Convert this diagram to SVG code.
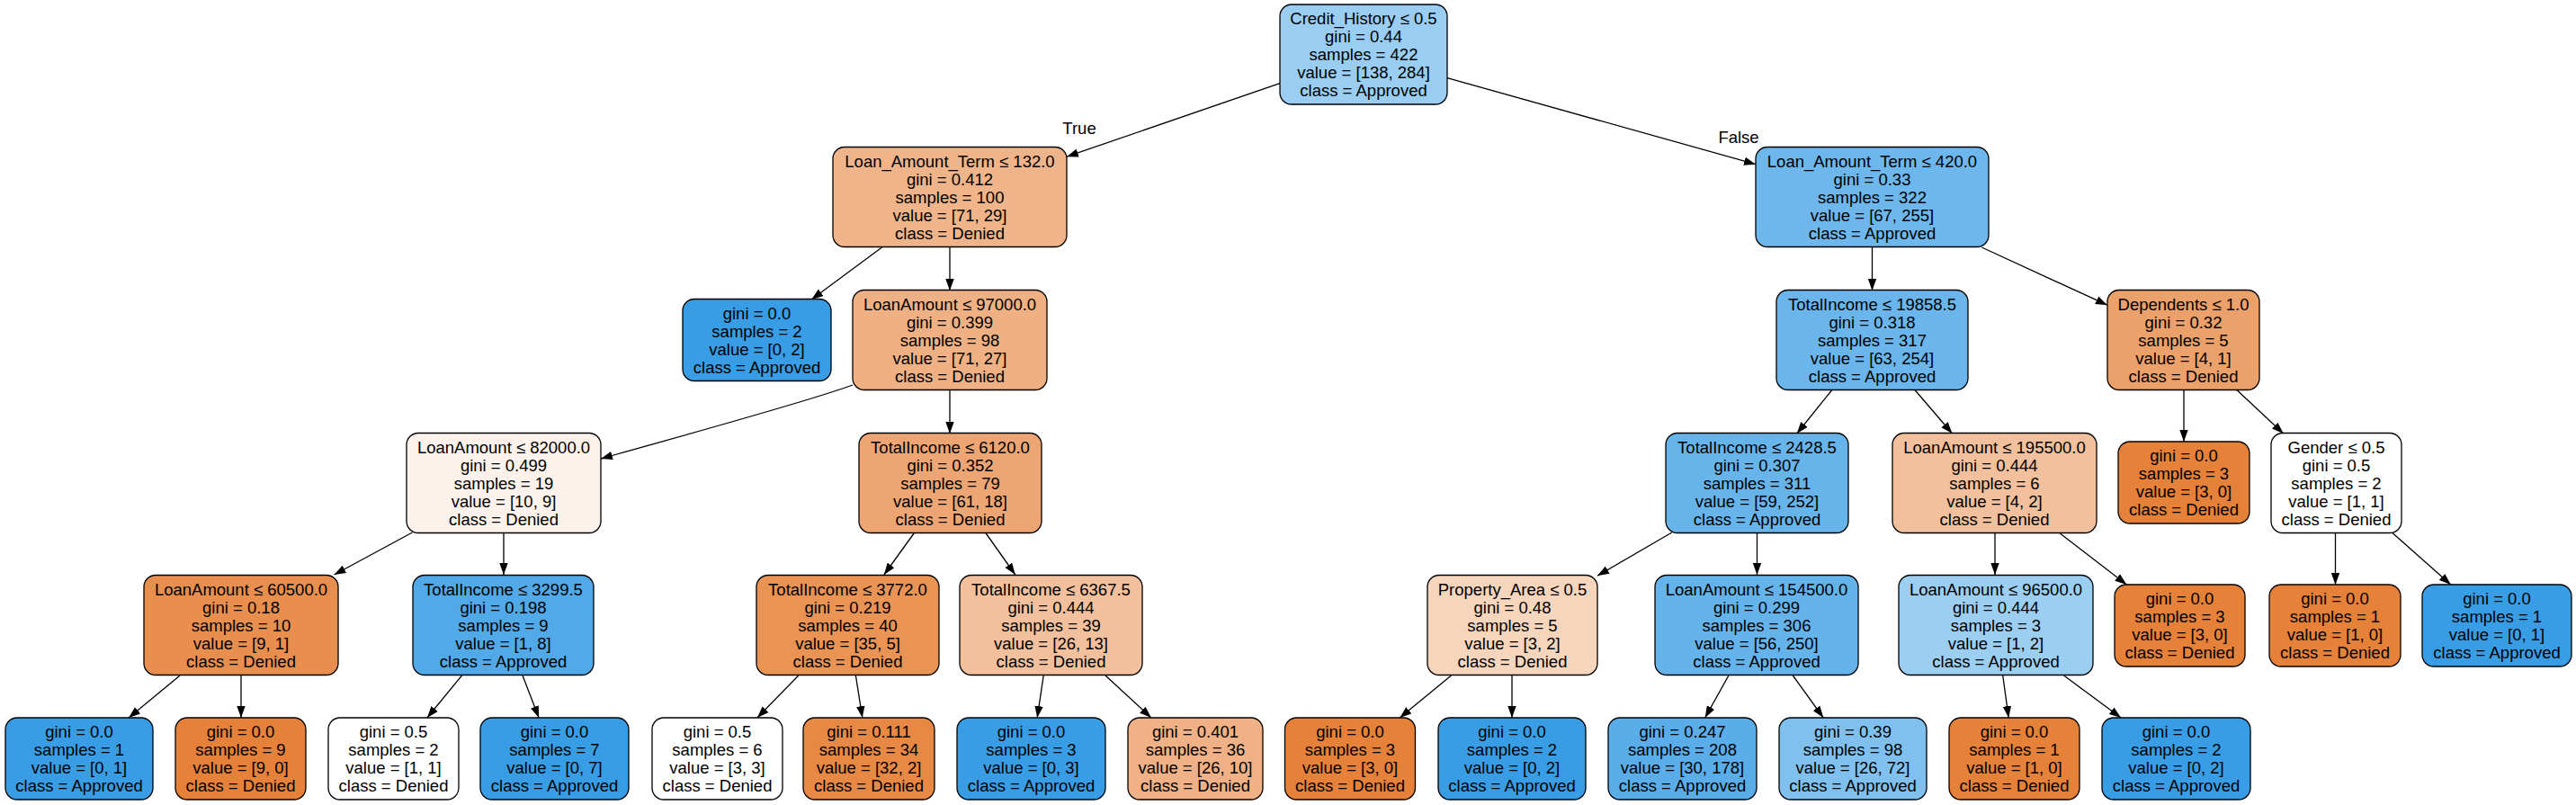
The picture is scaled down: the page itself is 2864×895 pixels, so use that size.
<svg xmlns="http://www.w3.org/2000/svg" width="2864" height="895" viewBox="0 0 2864 895">
<style>
.n rect{stroke:#000;stroke-width:1.3}
text{font-family:"Liberation Sans",Helvetica,Arial,sans-serif;font-size:18.5px;text-anchor:middle;fill:#000}
.e path{fill:none;stroke:#000;stroke-width:1.3;marker-end:url(#a)}
.or{fill:#e58139}.bl{fill:#399de5}.wh{fill:#ffffff}
</style>
<defs>
<marker id="a" markerUnits="userSpaceOnUse" viewBox="0 0 13 10" refX="13" refY="5" markerWidth="13" markerHeight="10" orient="auto">
<path d="M0,0.3 L13,5 L0,9.7 z" fill="#000"/>
</marker>
</defs>
<rect width="2864" height="895" fill="#fff"/>
<g id="edges" class="e">
<path d="M1423,92.6 L1186,174.2"/>
<path d="M1609,86.6 L1952,182.7"/>
<path d="M980.5,275 L902.2,333"/>
<path d="M1056,275 L1056,323"/>
<path d="M948,428 C900,446 760,484 668,510"/>
<path d="M1056,433 L1056,482"/>
<path d="M458.4,592 L371.5,639"/>
<path d="M560,592 L560,639"/>
<path d="M200.1,751 L143.1,798"/>
<path d="M268,751 L268,798"/>
<path d="M513.5,751 L474.9,798"/>
<path d="M581,751 L599.1,798"/>
<path d="M1016.8,592 L982.9,639"/>
<path d="M1095.5,592 L1128.8,639"/>
<path d="M887.8,751 L841.9,798"/>
<path d="M951.4,751 L958.8,798"/>
<path d="M1160.2,751 L1153.2,798"/>
<path d="M1229,751 L1279.9,798"/>
<path d="M2081.5,275 L2081.5,323"/>
<path d="M2203.3,275 L2343,339.2"/>
<path d="M2037.2,433 L1997.8,482"/>
<path d="M2128.5,433 L2170.5,482"/>
<path d="M1858.8,592 L1776,640.1"/>
<path d="M1953.5,592 L1953.5,639"/>
<path d="M1613.5,751 L1556.3,798"/>
<path d="M1681,751 L1681,798"/>
<path d="M1921.9,751 L1895.7,798"/>
<path d="M1993.3,751 L2027.2,798"/>
<path d="M2218,592 L2218,639"/>
<path d="M2289,592 L2364.4,650"/>
<path d="M2226.7,751 L2233.2,798"/>
<path d="M2294.6,751 L2358.1,798"/>
<path d="M2428,433 L2428,491"/>
<path d="M2486.3,433 L2538.7,482"/>
<path d="M2596.5,592 L2596.5,650"/>
<path d="M2659.4,592 L2724.8,650"/>
<text x="1200" y="149">True</text>
<text x="1933" y="159">False</text>
</g>
<g id="node0" class="n"><rect x="1423" y="5" width="186" height="111" rx="13" fill="#99cdf2"/><text x="1516" y="27"><tspan x="1516">Credit_History ≤ 0.5</tspan><tspan x="1516" dy="20">gini = 0.44</tspan><tspan x="1516" dy="20">samples = 422</tspan><tspan x="1516" dy="20">value = [138, 284]</tspan><tspan x="1516" dy="20">class = Approved</tspan></text></g>
<g id="node1" class="n"><rect x="926" y="163.5" width="260" height="111" rx="13" fill="#f0b48a"/><text x="1056" y="185.5"><tspan x="1056">Loan_Amount_Term ≤ 132.0</tspan><tspan x="1056" dy="20">gini = 0.412</tspan><tspan x="1056" dy="20">samples = 100</tspan><tspan x="1056" dy="20">value = [71, 29]</tspan><tspan x="1056" dy="20">class = Denied</tspan></text></g>
<g id="node2" class="n"><rect x="759" y="332.5" width="165" height="91" rx="13" class="bl"/><text x="841.5" y="354.5"><tspan x="841.5">gini = 0.0</tspan><tspan x="841.5" dy="20">samples = 2</tspan><tspan x="841.5" dy="20">value = [0, 2]</tspan><tspan x="841.5" dy="20">class = Approved</tspan></text></g>
<g id="node3" class="n"><rect x="948" y="322.5" width="216" height="111" rx="13" fill="#efb184"/><text x="1056" y="344.5"><tspan x="1056">LoanAmount ≤ 97000.0</tspan><tspan x="1056" dy="20">gini = 0.399</tspan><tspan x="1056" dy="20">samples = 98</tspan><tspan x="1056" dy="20">value = [71, 27]</tspan><tspan x="1056" dy="20">class = Denied</tspan></text></g>
<g id="node4" class="n"><rect x="452" y="481.5" width="216" height="111" rx="13" fill="#fcf2eb"/><text x="560" y="503.5"><tspan x="560">LoanAmount ≤ 82000.0</tspan><tspan x="560" dy="20">gini = 0.499</tspan><tspan x="560" dy="20">samples = 19</tspan><tspan x="560" dy="20">value = [10, 9]</tspan><tspan x="560" dy="20">class = Denied</tspan></text></g>
<g id="node5" class="n"><rect x="160" y="639.5" width="216" height="111" rx="13" fill="#e88f4f"/><text x="268" y="661.5"><tspan x="268">LoanAmount ≤ 60500.0</tspan><tspan x="268" dy="20">gini = 0.18</tspan><tspan x="268" dy="20">samples = 10</tspan><tspan x="268" dy="20">value = [9, 1]</tspan><tspan x="268" dy="20">class = Denied</tspan></text></g>
<g id="node6" class="n"><rect x="6" y="798" width="164" height="91" rx="13" class="bl"/><text x="88" y="820"><tspan x="88">gini = 0.0</tspan><tspan x="88" dy="20">samples = 1</tspan><tspan x="88" dy="20">value = [0, 1]</tspan><tspan x="88" dy="20">class = Approved</tspan></text></g>
<g id="node7" class="n"><rect x="195" y="798" width="145" height="91" rx="13" class="or"/><text x="267.5" y="820"><tspan x="267.5">gini = 0.0</tspan><tspan x="267.5" dy="20">samples = 9</tspan><tspan x="267.5" dy="20">value = [9, 0]</tspan><tspan x="267.5" dy="20">class = Denied</tspan></text></g>
<g id="node8" class="n"><rect x="459" y="639.5" width="201" height="111" rx="13" fill="#52a9e8"/><text x="559.5" y="661.5"><tspan x="559.5">TotalIncome ≤ 3299.5</tspan><tspan x="559.5" dy="20">gini = 0.198</tspan><tspan x="559.5" dy="20">samples = 9</tspan><tspan x="559.5" dy="20">value = [1, 8]</tspan><tspan x="559.5" dy="20">class = Approved</tspan></text></g>
<g id="node9" class="n"><rect x="365" y="798" width="145" height="91" rx="13" class="wh"/><text x="437.5" y="820"><tspan x="437.5">gini = 0.5</tspan><tspan x="437.5" dy="20">samples = 2</tspan><tspan x="437.5" dy="20">value = [1, 1]</tspan><tspan x="437.5" dy="20">class = Denied</tspan></text></g>
<g id="node10" class="n"><rect x="534" y="798" width="165" height="91" rx="13" class="bl"/><text x="616.5" y="820"><tspan x="616.5">gini = 0.0</tspan><tspan x="616.5" dy="20">samples = 7</tspan><tspan x="616.5" dy="20">value = [0, 7]</tspan><tspan x="616.5" dy="20">class = Approved</tspan></text></g>
<g id="node11" class="n"><rect x="955" y="481.5" width="203" height="111" rx="13" fill="#eda673"/><text x="1056.5" y="503.5"><tspan x="1056.5">TotalIncome ≤ 6120.0</tspan><tspan x="1056.5" dy="20">gini = 0.352</tspan><tspan x="1056.5" dy="20">samples = 79</tspan><tspan x="1056.5" dy="20">value = [61, 18]</tspan><tspan x="1056.5" dy="20">class = Denied</tspan></text></g>
<g id="node12" class="n"><rect x="841" y="639.5" width="203" height="111" rx="13" fill="#e99355"/><text x="942.5" y="661.5"><tspan x="942.5">TotalIncome ≤ 3772.0</tspan><tspan x="942.5" dy="20">gini = 0.219</tspan><tspan x="942.5" dy="20">samples = 40</tspan><tspan x="942.5" dy="20">value = [35, 5]</tspan><tspan x="942.5" dy="20">class = Denied</tspan></text></g>
<g id="node13" class="n"><rect x="725" y="798" width="145" height="91" rx="13" class="wh"/><text x="797.5" y="820"><tspan x="797.5">gini = 0.5</tspan><tspan x="797.5" dy="20">samples = 6</tspan><tspan x="797.5" dy="20">value = [3, 3]</tspan><tspan x="797.5" dy="20">class = Denied</tspan></text></g>
<g id="node14" class="n"><rect x="893" y="798" width="146" height="91" rx="13" fill="#e78945"/><text x="966" y="820"><tspan x="966">gini = 0.111</tspan><tspan x="966" dy="20">samples = 34</tspan><tspan x="966" dy="20">value = [32, 2]</tspan><tspan x="966" dy="20">class = Denied</tspan></text></g>
<g id="node15" class="n"><rect x="1067" y="639.5" width="203" height="111" rx="13" fill="#f2c09c"/><text x="1168.5" y="661.5"><tspan x="1168.5">TotalIncome ≤ 6367.5</tspan><tspan x="1168.5" dy="20">gini = 0.444</tspan><tspan x="1168.5" dy="20">samples = 39</tspan><tspan x="1168.5" dy="20">value = [26, 13]</tspan><tspan x="1168.5" dy="20">class = Denied</tspan></text></g>
<g id="node16" class="n"><rect x="1064" y="798" width="165" height="91" rx="13" class="bl"/><text x="1146.5" y="820"><tspan x="1146.5">gini = 0.0</tspan><tspan x="1146.5" dy="20">samples = 3</tspan><tspan x="1146.5" dy="20">value = [0, 3]</tspan><tspan x="1146.5" dy="20">class = Approved</tspan></text></g>
<g id="node17" class="n"><rect x="1254" y="798" width="150" height="91" rx="13" fill="#efb185"/><text x="1329" y="820"><tspan x="1329">gini = 0.401</tspan><tspan x="1329" dy="20">samples = 36</tspan><tspan x="1329" dy="20">value = [26, 10]</tspan><tspan x="1329" dy="20">class = Denied</tspan></text></g>
<g id="node18" class="n"><rect x="1952" y="163.5" width="259" height="111" rx="13" fill="#6db7ec"/><text x="2081.5" y="185.5"><tspan x="2081.5">Loan_Amount_Term ≤ 420.0</tspan><tspan x="2081.5" dy="20">gini = 0.33</tspan><tspan x="2081.5" dy="20">samples = 322</tspan><tspan x="2081.5" dy="20">value = [67, 255]</tspan><tspan x="2081.5" dy="20">class = Approved</tspan></text></g>
<g id="node19" class="n"><rect x="1975" y="322.5" width="213" height="111" rx="13" fill="#6ab5eb"/><text x="2081.5" y="344.5"><tspan x="2081.5">TotalIncome ≤ 19858.5</tspan><tspan x="2081.5" dy="20">gini = 0.318</tspan><tspan x="2081.5" dy="20">samples = 317</tspan><tspan x="2081.5" dy="20">value = [63, 254]</tspan><tspan x="2081.5" dy="20">class = Approved</tspan></text></g>
<g id="node20" class="n"><rect x="1852" y="481.5" width="203" height="111" rx="13" fill="#67b4eb"/><text x="1953.5" y="503.5"><tspan x="1953.5">TotalIncome ≤ 2428.5</tspan><tspan x="1953.5" dy="20">gini = 0.307</tspan><tspan x="1953.5" dy="20">samples = 311</tspan><tspan x="1953.5" dy="20">value = [59, 252]</tspan><tspan x="1953.5" dy="20">class = Approved</tspan></text></g>
<g id="node21" class="n"><rect x="1587" y="639.5" width="189" height="111" rx="13" fill="#f6d5bd"/><text x="1681.5" y="661.5"><tspan x="1681.5">Property_Area ≤ 0.5</tspan><tspan x="1681.5" dy="20">gini = 0.48</tspan><tspan x="1681.5" dy="20">samples = 5</tspan><tspan x="1681.5" dy="20">value = [3, 2]</tspan><tspan x="1681.5" dy="20">class = Denied</tspan></text></g>
<g id="node22" class="n"><rect x="1428.5" y="798" width="145" height="91" rx="13" class="or"/><text x="1501" y="820"><tspan x="1501">gini = 0.0</tspan><tspan x="1501" dy="20">samples = 3</tspan><tspan x="1501" dy="20">value = [3, 0]</tspan><tspan x="1501" dy="20">class = Denied</tspan></text></g>
<g id="node23" class="n"><rect x="1599" y="798" width="164" height="91" rx="13" class="bl"/><text x="1681" y="820"><tspan x="1681">gini = 0.0</tspan><tspan x="1681" dy="20">samples = 2</tspan><tspan x="1681" dy="20">value = [0, 2]</tspan><tspan x="1681" dy="20">class = Approved</tspan></text></g>
<g id="node24" class="n"><rect x="1840" y="639.5" width="226" height="111" rx="13" fill="#65b3eb"/><text x="1953" y="661.5"><tspan x="1953">LoanAmount ≤ 154500.0</tspan><tspan x="1953" dy="20">gini = 0.299</tspan><tspan x="1953" dy="20">samples = 306</tspan><tspan x="1953" dy="20">value = [56, 250]</tspan><tspan x="1953" dy="20">class = Approved</tspan></text></g>
<g id="node25" class="n"><rect x="1788" y="798" width="165" height="91" rx="13" fill="#5aade9"/><text x="1870.5" y="820"><tspan x="1870.5">gini = 0.247</tspan><tspan x="1870.5" dy="20">samples = 208</tspan><tspan x="1870.5" dy="20">value = [30, 178]</tspan><tspan x="1870.5" dy="20">class = Approved</tspan></text></g>
<g id="node26" class="n"><rect x="1978" y="798" width="164" height="91" rx="13" fill="#80c0ee"/><text x="2060" y="820"><tspan x="2060">gini = 0.39</tspan><tspan x="2060" dy="20">samples = 98</tspan><tspan x="2060" dy="20">value = [26, 72]</tspan><tspan x="2060" dy="20">class = Approved</tspan></text></g>
<g id="node27" class="n"><rect x="2104" y="481.5" width="227" height="111" rx="13" fill="#f2c09c"/><text x="2217.5" y="503.5"><tspan x="2217.5">LoanAmount ≤ 195500.0</tspan><tspan x="2217.5" dy="20">gini = 0.444</tspan><tspan x="2217.5" dy="20">samples = 6</tspan><tspan x="2217.5" dy="20">value = [4, 2]</tspan><tspan x="2217.5" dy="20">class = Denied</tspan></text></g>
<g id="node28" class="n"><rect x="2111" y="639.5" width="216" height="111" rx="13" fill="#9ccef2"/><text x="2219" y="661.5"><tspan x="2219">LoanAmount ≤ 96500.0</tspan><tspan x="2219" dy="20">gini = 0.444</tspan><tspan x="2219" dy="20">samples = 3</tspan><tspan x="2219" dy="20">value = [1, 2]</tspan><tspan x="2219" dy="20">class = Approved</tspan></text></g>
<g id="node29" class="n"><rect x="2167" y="798" width="145" height="91" rx="13" class="or"/><text x="2239.5" y="820"><tspan x="2239.5">gini = 0.0</tspan><tspan x="2239.5" dy="20">samples = 1</tspan><tspan x="2239.5" dy="20">value = [1, 0]</tspan><tspan x="2239.5" dy="20">class = Denied</tspan></text></g>
<g id="node30" class="n"><rect x="2337" y="798" width="165" height="91" rx="13" class="bl"/><text x="2419.5" y="820"><tspan x="2419.5">gini = 0.0</tspan><tspan x="2419.5" dy="20">samples = 2</tspan><tspan x="2419.5" dy="20">value = [0, 2]</tspan><tspan x="2419.5" dy="20">class = Approved</tspan></text></g>
<g id="node31" class="n"><rect x="2351" y="650" width="145" height="91" rx="13" class="or"/><text x="2423.5" y="672"><tspan x="2423.5">gini = 0.0</tspan><tspan x="2423.5" dy="20">samples = 3</tspan><tspan x="2423.5" dy="20">value = [3, 0]</tspan><tspan x="2423.5" dy="20">class = Denied</tspan></text></g>
<g id="node32" class="n"><rect x="2343" y="322.5" width="169" height="111" rx="13" fill="#eca06a"/><text x="2427.5" y="344.5"><tspan x="2427.5">Dependents ≤ 1.0</tspan><tspan x="2427.5" dy="20">gini = 0.32</tspan><tspan x="2427.5" dy="20">samples = 5</tspan><tspan x="2427.5" dy="20">value = [4, 1]</tspan><tspan x="2427.5" dy="20">class = Denied</tspan></text></g>
<g id="node33" class="n"><rect x="2355" y="491" width="146" height="91" rx="13" class="or"/><text x="2428" y="513"><tspan x="2428">gini = 0.0</tspan><tspan x="2428" dy="20">samples = 3</tspan><tspan x="2428" dy="20">value = [3, 0]</tspan><tspan x="2428" dy="20">class = Denied</tspan></text></g>
<g id="node34" class="n"><rect x="2525" y="481.5" width="145" height="111" rx="13" class="wh"/><text x="2597.5" y="503.5"><tspan x="2597.5">Gender ≤ 0.5</tspan><tspan x="2597.5" dy="20">gini = 0.5</tspan><tspan x="2597.5" dy="20">samples = 2</tspan><tspan x="2597.5" dy="20">value = [1, 1]</tspan><tspan x="2597.5" dy="20">class = Denied</tspan></text></g>
<g id="node35" class="n"><rect x="2523" y="650" width="146" height="91" rx="13" class="or"/><text x="2596" y="672"><tspan x="2596">gini = 0.0</tspan><tspan x="2596" dy="20">samples = 1</tspan><tspan x="2596" dy="20">value = [1, 0]</tspan><tspan x="2596" dy="20">class = Denied</tspan></text></g>
<g id="node36" class="n"><rect x="2693" y="650" width="166" height="91" rx="13" class="bl"/><text x="2776" y="672"><tspan x="2776">gini = 0.0</tspan><tspan x="2776" dy="20">samples = 1</tspan><tspan x="2776" dy="20">value = [0, 1]</tspan><tspan x="2776" dy="20">class = Approved</tspan></text></g>
</svg>
